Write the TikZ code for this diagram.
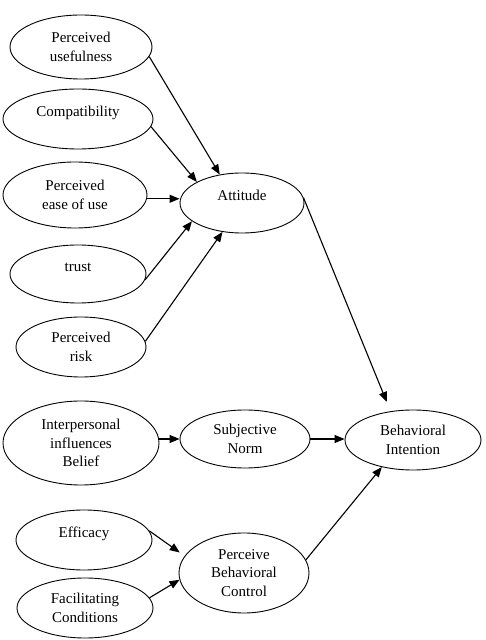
\documentclass[tikz,border=0pt]{standalone}
\usepackage{fontspec}
\setmainfont{Liberation Serif}
\usetikzlibrary{shapes.geometric,arrows.meta}
\tikzset{
  ell/.style={draw, ellipse, line width=0.9pt, inner sep=0pt, align=center,
    font=\fontsize{15}{18.5}\selectfont},
  onel/.style={text height=11pt, text depth=15pt},
  arr/.style={line width=1.1pt, -{Triangle[length=10pt,width=8pt]}}
}
\begin{document}
\begin{tikzpicture}[x=1pt,y=1pt]
\useasboundingbox (0,0) rectangle (486,640);
\node[ell, minimum width=142pt, minimum height=64pt] (pu) at (81,593) {Perceived\\usefulness};
\node[ell, onel, minimum width=150pt, minimum height=60pt] (compat) at (78,521) {Compatibility};
\node[ell, minimum width=144pt, minimum height=66pt] (peou) at (75,445) {Perceived\\ease of use};
\node[ell, onel, minimum width=124pt, minimum height=60pt] (att) at (242,437) {Attitude};
\node[ell, onel, minimum width=136pt, minimum height=58pt] (trust) at (78,366) {trust};
\node[ell, minimum width=130pt, minimum height=60pt] (risk) at (81,293) {Perceived\\risk};
\node[ell, minimum width=156pt, minimum height=84pt] (ip) at (81,197) {Interpersonal\\influences\\Belief};
\node[ell, minimum width=130pt, minimum height=58pt] (sn) at (245,201) {Subjective\\Norm};
\node[ell, minimum width=136pt, minimum height=60pt] (bi) at (413,200) {Behavioral\\Intention};
\node[ell, onel, minimum width=136pt, minimum height=60pt] (eff) at (84,100) {Efficacy};
\node[ell, minimum width=130pt, minimum height=80pt] (pbc) at (244,67) {Perceive\\Behavioral\\Control};
\node[ell, minimum width=136pt, minimum height=60pt] (fc) at (85,32) {Facilitating\\Conditions};

\draw[arr] (pu.352) -- (att.128);
\draw[arr] (compat.354) -- (att.155);
\draw[arr] (peou.357) -- (peou.357 -| att.west);
\draw[arr] (trust.355) -- (att.200);
\draw[arr] (risk.5) -- (att.236);
\draw[arr, shorten >=10pt] (att.5) -- (bi.128);
\draw[arr] (ip.east |- sn.west) -- (sn.west);
\draw[arr] (sn.east) -- (sn.east -| bi.west);
\draw[arr, shorten >=6pt] (eff.8) -- (pbc.164);
\draw[arr] (fc.9) -- (pbc.186);
\draw[arr] (pbc.12) -- (bi.221);
\end{tikzpicture}
\end{document}
